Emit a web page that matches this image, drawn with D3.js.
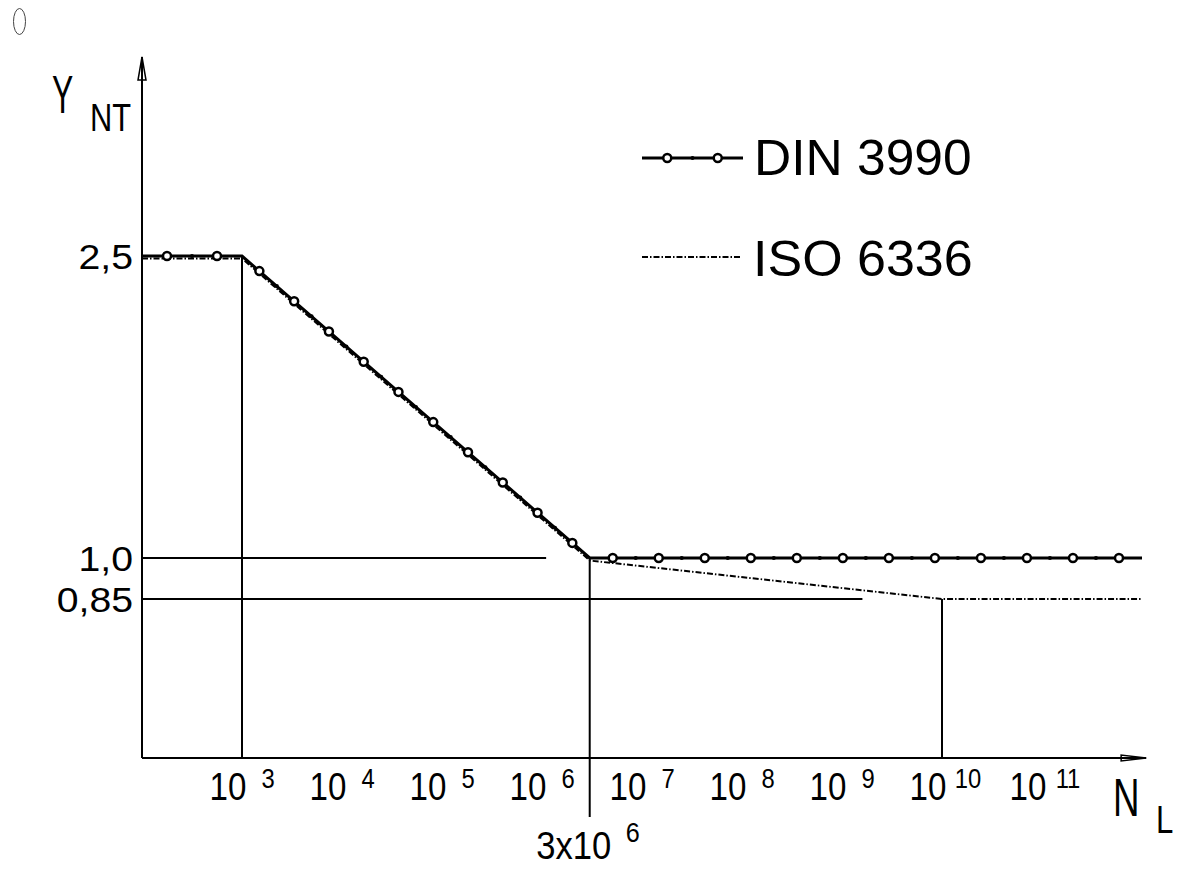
<!DOCTYPE html>
<html>
<head>
<meta charset="utf-8">
<script src="https://cdn.jsdelivr.net/npm/d3@7"></script>
<style>
  body { margin: 0; background: #fff; }
  svg { display: block; }
  text { font-family: "Liberation Sans", Arial, sans-serif; fill: #000; }
</style>
</head>
<body>
<div id="chart"></div>
<script>
var width = 1178, height = 870;

// x ticks are powers of ten
var tickExp = [3, 4, 5, 6, 7, 8, 9, 10, 11];
var yTickValues = [2.5, 1.0, 0.85];
var yTickLabels = ["2,5", "1,0", "0,85"];

// DIN 3990 curve
var dinN = [1e2, 1e3, 3e6, 1e12];
var dinY = [2.5, 2.5, 1.0, 1.0];
// ISO 6336 curve
var isoN = [1e2, 1e3, 3e6, 1e10, 1e12];
var isoY = [2.5, 2.5, 1.0, 0.85, 0.85];

// helper lines
var hRefY = [1.0, 0.85];
var hRefEnd = [1.1e6, 1.6e9];
var vRefN = [1e3, 3e6, 1e10];
var vRefTop = [2.5, 1.0, 0.85];
var vRefBottom = [0.5, 0.37, 0.5];

var x = d3.scaleLog().domain([1e2, 1e12]).range([142, 1142]);
// schematic axis, not to scale
var y = d3.scaleLinear().domain([0.5, 0.85, 1.0, 2.5, 3.5]).range([758, 599, 558, 256, 57]);

var svg = d3.select("#chart").append("svg")
  .attr("width", width)
  .attr("height", height);

// squeeze / stretch text horizontally
function label(x0, y0, str, size, k, anchor) {
  var t = svg.append("text")
    .attr("x", x0)
    .attr("y", y0)
    .attr("font-size", size)
    .attr("text-anchor", anchor || "start")
    .text(str);
  var w = t.node().getComputedTextLength();
  t.attr("textLength", w * k).attr("lengthAdjust", "spacingAndGlyphs");
  return t;
}

// little mark in the top left corner
svg.append("ellipse")
  .attr("cx", 19.5).attr("cy", 21.5)
  .attr("rx", 6).attr("ry", 13)
  .attr("fill", "none").attr("stroke", "#444").attr("stroke-width", 1);

// reference lines
hRefY.forEach(function(v, i) {
  svg.append("line")
    .attr("x1", x(1e2)).attr("x2", x(hRefEnd[i]))
    .attr("y1", y(v)).attr("y2", y(v))
    .attr("stroke", "#000").attr("stroke-width", 2);
});
vRefN.forEach(function(n, i) {
  svg.append("line")
    .attr("x1", x(n)).attr("x2", x(n))
    .attr("y1", y(vRefTop[i])).attr("y2", y(vRefBottom[i]))
    .attr("stroke", "#000").attr("stroke-width", 2);
});

// axes
var x0 = x(1e2), yBase = y(0.5), yTop = y(3.5), xTip = x(1.1e12);
svg.append("line")
  .attr("x1", x0).attr("x2", x0).attr("y1", yBase).attr("y2", yTop)
  .attr("stroke", "#000").attr("stroke-width", 2);
svg.append("path")
  .attr("d", "M" + x0 + "," + yTop + "L" + (x0 - 4) + "," + (yTop + 23) + "L" + (x0 + 4) + "," + (yTop + 23) + "Z")
  .attr("fill", "none").attr("stroke", "#000").attr("stroke-width", 1.5);
svg.append("line")
  .attr("x1", x0).attr("x2", xTip).attr("y1", yBase).attr("y2", yBase)
  .attr("stroke", "#000").attr("stroke-width", 2);
svg.append("path")
  .attr("d", "M" + xTip + "," + yBase + "L" + (xTip - 25) + "," + (yBase - 3) + "L" + (xTip - 25) + "," + (yBase + 3) + "Z")
  .attr("fill", "none").attr("stroke", "#000").attr("stroke-width", 1.5);

// x tick labels
tickExp.forEach(function(e) {
  var px = x(Math.pow(10, e));
  label(px - 14, 800, "10", 39, 0.85, "middle");
  label(px + 26, 788, String(e), 28, 0.85, "middle");
});
label(x(3e6) - 16, 859, "3x10", 38, 0.91, "middle");
label(x(3e6) + 43, 842, "6", 28, 0.9, "middle");

// y tick labels
yTickValues.forEach(function(v, i) {
  label(133, y(v) + 12.5, yTickLabels[i], 35, 1.12, "end");
});

// axis titles
label(52, 113, "Y", 54, 0.59);
label(90, 131, "NT", 39, 0.79);
label(1113, 816, "N", 54, 0.68);
label(1156, 833, "L", 38, 0.82);

// ISO 6336: dash-dot, nudged down where it runs under DIN
var isoPts = isoN.map(function(n, i) {
  return [x(n), y(isoY[i]) + (n <= 3e6 ? 2.5 : 0)];
});
svg.append("path")
  .attr("d", d3.line()(isoPts))
  .attr("fill", "none").attr("stroke", "#000").attr("stroke-width", 1.9)
  .attr("stroke-dasharray", "6,2,1.5,2");

// DIN 3990: solid with circle markers
var dinPts = dinN.map(function(n, i) { return [x(n), y(dinY[i])]; });

function markers(pts) {
  var circles = [], dots = [];
  for (var i = 0; i < pts.length - 1; i++) {
    var a = pts[i], b = pts[i + 1];
    var L = Math.hypot(b[0] - a[0], b[1] - a[1]);
    var n = Math.max(1, Math.round(L / 46));
    for (var k = 0; k < n; k++) {
      var t = (k + 0.5) / n;
      circles.push([a[0] + (b[0] - a[0]) * t, a[1] + (b[1] - a[1]) * t]);
      if (k > 0) {
        var t2 = k / n;
        dots.push([a[0] + (b[0] - a[0]) * t2, a[1] + (b[1] - a[1]) * t2]);
      }
    }
  }
  return {circles: circles, dots: dots};
}

function drawDin(pts) {
  svg.append("path")
    .attr("d", d3.line()(pts))
    .attr("fill", "none").attr("stroke", "#000").attr("stroke-width", 3);
  var m = markers(pts);
  svg.append("g").selectAll("circle")
    .data(m.dots).enter().append("circle")
    .attr("cx", function(d) { return d[0]; })
    .attr("cy", function(d) { return d[1]; })
    .attr("r", 2.1).attr("fill", "#000");
  svg.append("g").selectAll("circle")
    .data(m.circles).enter().append("circle")
    .attr("cx", function(d) { return d[0]; })
    .attr("cy", function(d) { return d[1]; })
    .attr("r", 4)
    .attr("fill", "#fff").attr("stroke", "#000").attr("stroke-width", 2.5);
}
drawDin(dinPts);

// legend
drawDin([[642, 158], [743, 158]]);
label(754, 175, "DIN 3990", 50, 1.03);
svg.append("line")
  .attr("x1", 642).attr("x2", 740).attr("y1", 257).attr("y2", 257)
  .attr("stroke", "#000").attr("stroke-width", 1.9)
  .attr("stroke-dasharray", "6,2,1.5,2");
label(753, 276, "ISO 6336", 50, 1.04);
</script>
</body>
</html>
